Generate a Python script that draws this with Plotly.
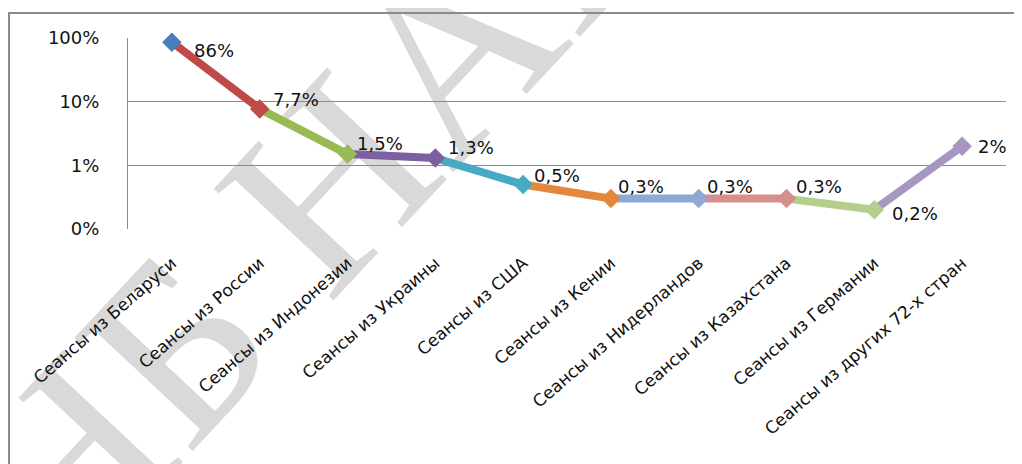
import math
import plotly.graph_objects as go

categories = [
    "Сеансы из Беларуси", "Сеансы из России", "Сеансы из Индонезии",
    "Сеансы из Украины", "Сеансы из США", "Сеансы из Кении",
    "Сеансы из Нидерландов", "Сеансы из Казахстана", "Сеансы из Германии",
    "Сеансы из других 72-х стран",
]
values_pct = [86, 7.7, 1.5, 1.3, 0.5, 0.3, 0.3, 0.3, 0.2, 2]
y_tick_vals = [0.1, 1, 10, 100]
y_tick_text = ["0%", "1%", "10%", "100%"]

colors = ["#4A7EBB", "#BE4B48", "#98B954", "#7D60A0", "#46AAC5",
          "#E3873C", "#8EA9D6", "#D68F8D", "#B5CE8E", "#A896C2"]
label_xshift = [20, 11, 7, 11, 9, 5, 6, 7, 16, 14]
label_yshift = [-8, 9, 11, 11, 9, 12, 12, 12, -4, 0]

FONT = "DejaVu Sans"

fig = go.Figure()
for i in range(1, len(categories)):
    fig.add_trace(go.Scatter(
        x=[categories[i - 1], categories[i]],
        y=[values_pct[i - 1], values_pct[i]],
        mode="lines", line=dict(color=colors[i], width=8),
        hoverinfo="skip", showlegend=False))

fig.add_trace(go.Scatter(
    x=categories, y=values_pct, mode="markers",
    marker=dict(symbol="diamond", size=15, color=colors, line=dict(width=0)),
    showlegend=False, cliponaxis=False))

for c, v, dx, dy in zip(categories, values_pct, label_xshift, label_yshift):
    lbl = f"{v:g}".replace(".", ",") + "%"
    fig.add_annotation(x=c, y=math.log10(v), text=lbl, showarrow=False,
                       xanchor="left", yanchor="middle", xshift=dx, yshift=dy,
                       font=dict(family=FONT, size=18, color="#111111"))

# watermark (behind the chart)
fig.add_shape(type="line", xref="paper", yref="paper",
              x0=-0.115, y0=-1.2356, x1=0.5068, y1=1.8220,
              line=dict(color="rgba(0,0,0,0)", width=0), layer="below",
              label=dict(text="НБ НАН", textposition="middle",
                         yanchor="middle", padding=0,
                         font=dict(family="Liberation Serif", size=250,
                                   color="#D9D9D9")))

# outer chart border
fig.add_shape(type="rect", xref="paper", yref="paper",
              x0=-0.1355, x1=1.04, y0=-1.3, y1=1.131,
              line=dict(color="#8a8a8a", width=2))

fig.update_layout(
    width=1022, height=464,
    margin=dict(l=120, r=24, t=30, b=243),
    paper_bgcolor="white", plot_bgcolor="rgba(0,0,0,0)",
    font=dict(family=FONT, size=17, color="#111111"),
    xaxis=dict(type="category", range=[-0.5, 9.5], tickangle=-41,
               showgrid=False, zeroline=False, showline=False, ticks="",
               ticklabelstandoff=20,
               tickfont=dict(family=FONT, size=17, color="#111111")),
    yaxis=dict(type="log", range=[-1, 2], tickvals=y_tick_vals,
               ticktext=y_tick_text, showgrid=True, gridcolor="#8c8c8c",
               gridwidth=1, showline=True, linecolor="#8c8c8c", linewidth=1,
               zeroline=False, ticks="", ticklabelstandoff=24,
               tickfont=dict(family=FONT, size=18, color="#111111")),
)

fig.write_html("out.html")
